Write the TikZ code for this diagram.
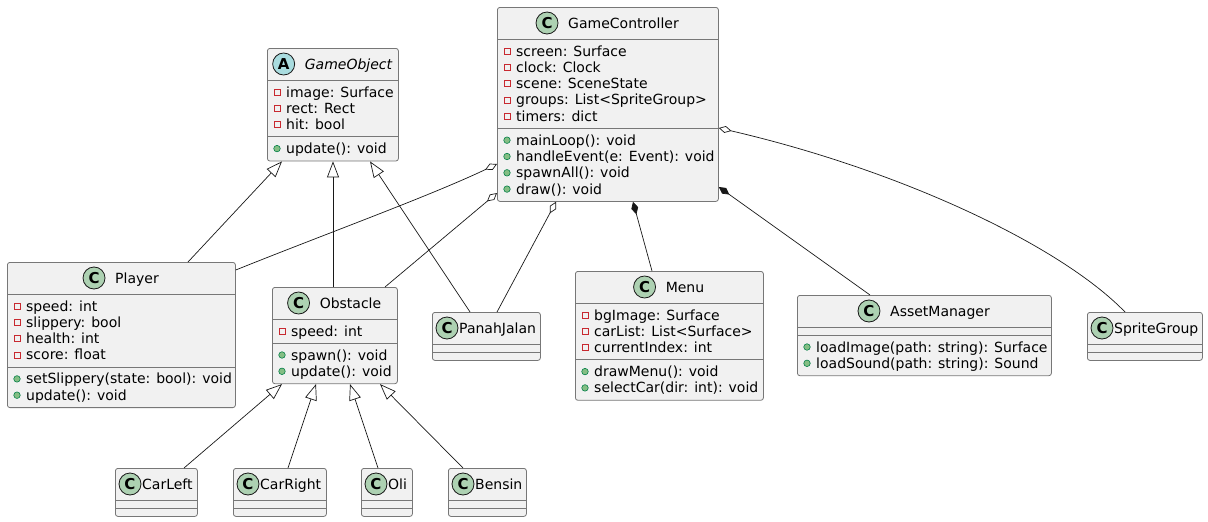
\documentclass[tikz,border=0pt]{standalone}
\usepackage{fontspec}
\setmainfont{DejaVu Sans}
\usetikzlibrary{arrows.meta,calc}
\definecolor{boxfill}{HTML}{F1F1F1}
\definecolor{boxline}{HTML}{181818}
\definecolor{boxborder}{HTML}{777777}
\definecolor{cfill}{HTML}{ADD1B2}
\definecolor{afill}{HTML}{A9DCDF}
\definecolor{privred}{HTML}{C82930}
\definecolor{pubfill}{HTML}{84BE84}
\definecolor{publine}{HTML}{038048}
\tikzset{
  classbox/.style={draw=boxborder, line width=0.8pt, fill=boxfill, rounded corners=2.5pt, inner sep=0pt, anchor=north west},
  sepline/.style={draw=boxborder, line width=0.8pt},
  rowtext/.style={inner sep=0pt, anchor=base west, font=\fontsize{14}{16.3}\selectfont},
  headtext/.style={inner sep=0pt, anchor=base, font=\fontsize{14}{16.3}\selectfont},
  headtextw/.style={inner sep=0pt, anchor=base west, font=\fontsize{14}{16.3}\selectfont},
  cicon/.style={circle, draw=boxline, line width=0.8pt, minimum size=22pt, inner sep=0pt, font=\fontsize{15}{15}\selectfont\bfseries},
  privicon/.style={rectangle, draw=privred, line width=0.8pt, minimum size=6pt, inner sep=0pt},
  pubicon/.style={circle, draw=publine, fill=pubfill, line width=0.6pt, minimum size=6.5pt, inner sep=0pt},
  conn/.style={draw=boxline, line width=0.7pt},
  inh/.style={conn, -{Triangle[open, length=16pt, width=12pt]}},
  agg/.style={conn, {Diamond[open, length=13pt, width=7pt]}-},
  comp/.style={conn, {Diamond[fill=boxline, length=13pt, width=7pt]}-},
}
% private attribute row: name, box left, row centre y, text
\newcommand{\prow}[4]{\node[privicon] (#1i) at (#2+10,#3) {};\node[rowtext] (#1) at (#2+19,#3+5) {#4};}
% public method row
\newcommand{\mrow}[4]{\node[pubicon] (#1i) at (#2+10,#3) {};\node[rowtext] (#1) at (#2+19,#3+5) {#4};}
% wide header: name, x centre of name, baseline, text, fill, letter
\newcommand{\whead}[6]{\node[headtext] (#1) at (#2,#3) {#4};\path (#1.base west) ++(-21pt,5pt) node[cicon, fill=#5] (#1c) {#6};}
% narrow header: name, box left, box top, text
\newcommand{\nhead}[4]{\node[headtextw] (#1) at (#2+27,#3+21) {#4};\node[cicon, fill=cfill] (#1c) at (#2+15,#3+16) {C};}
% separators: node, y1, y2 (offsets from top)
\newcommand{\seps}[3]{\draw[sepline] ([yshift=-#2pt]#1.north west) -- ([yshift=-#2pt]#1.north east);\draw[sepline] ([yshift=-#3pt]#1.north west) -- ([yshift=-#3pt]#1.north east);}
\begin{document}
\begin{tikzpicture}[x=1pt, y=-1pt]
\useasboundingbox (0,0) rectangle (1208,522);

% GameObject
\node[classbox, minimum width=131pt, minimum height=112.6pt] (GO) at (267,48) {};
\seps{GO}{32}{88.6}
\whead{GOn}{348.5}{69}{\itshape GameObject}{afill}{A}
\prow{GOa1}{267}{92}{image: Surface}
\prow{GOa2}{267}{108.3}{rect: Rect}
\prow{GOa3}{267}{124.6}{hit: bool}
\mrow{GOm1}{267}{148.6}{update(): void}

% GameController
\node[classbox, minimum width=221pt, minimum height=194pt] (GC) at (497,7) {};
\seps{GC}{32}{121.2}
\whead{GCn}{623.5}{28}{GameController}{cfill}{C}
\prow{GCa1}{497}{51}{screen: Surface}
\prow{GCa2}{497}{67.3}{clock: Clock}
\prow{GCa3}{497}{83.6}{scene: SceneState}
\prow{GCa4}{497}{99.9}{groups: List<SpriteGroup>}
\prow{GCa5}{497}{116.2}{timers: dict}
\mrow{GCm1}{497}{140.2}{mainLoop(): void}
\mrow{GCm2}{497}{156.5}{handleEvent(e: Event): void}
\mrow{GCm3}{497}{172.8}{spawnAll(): void}
\mrow{GCm4}{497}{189.1}{draw(): void}

% Player
\node[classbox, minimum width=228pt, minimum height=145.2pt] (PL) at (7,262) {};
\seps{PL}{32}{104.9}
\whead{PLn}{137}{283}{Player}{cfill}{C}
\prow{PLa1}{7}{306}{speed: int}
\prow{PLa2}{7}{322.3}{slippery: bool}
\prow{PLa3}{7}{338.6}{health: int}
\prow{PLa4}{7}{354.9}{score: float}
\mrow{PLm1}{7}{378.9}{setSlippery(state: bool): void}
\mrow{PLm2}{7}{395.2}{update(): void}

% Obstacle
\node[classbox, minimum width=125pt, minimum height=96.3pt] (OB) at (272,287) {};
\seps{OB}{32}{56}
\whead{OBn}{350.5}{308}{Obstacle}{cfill}{C}
\prow{OBa1}{272}{331}{speed: int}
\mrow{OBm1}{272}{355}{spawn(): void}
\mrow{OBm2}{272}{371.3}{update(): void}

% PanahJalan
\node[classbox, minimum width=108pt, minimum height=48pt] (PJ) at (432,312) {};
\seps{PJ}{32}{40}
\nhead{PJn}{432}{312}{PanahJalan}

% Menu
\node[classbox, minimum width=188pt, minimum height=128.9pt] (MN) at (575,271) {};
\seps{MN}{32}{88.6}
\whead{MNn}{685}{292}{Menu}{cfill}{C}
\prow{MNa1}{575}{315}{bgImage: Surface}
\prow{MNa2}{575}{331.3}{carList: List<Surface>}
\prow{MNa3}{575}{347.6}{currentIndex: int}
\mrow{MNm1}{575}{371.6}{drawMenu(): void}
\mrow{MNm2}{575}{387.9}{selectCar(dir: int): void}

% AssetManager
\node[classbox, minimum width=254pt, minimum height=80.3pt] (AM) at (797,295) {};
\seps{AM}{32}{40}
\whead{AMn}{940}{316}{AssetManager}{cfill}{C}
\mrow{AMm1}{797}{347}{loadImage(path: string): Surface}
\mrow{AMm2}{797}{363.3}{loadSound(path: string): Sound}

% SpriteGroup
\node[classbox, minimum width=115pt, minimum height=48pt] (SG) at (1087,312) {};
\seps{SG}{32}{40}
\nhead{SGn}{1087}{312}{SpriteGroup}

% bottom row
\node[classbox, minimum width=82pt, minimum height=48pt] (CL) at (115,468) {};
\seps{CL}{32}{40}
\nhead{CLn}{115}{468}{CarLeft}
\node[classbox, minimum width=93pt, minimum height=48pt] (CR) at (233,468) {};
\seps{CR}{32}{40}
\nhead{CRn}{233}{468}{CarRight}
\node[classbox, minimum width=51pt, minimum height=48pt] (OL) at (361,468) {};
\seps{OL}{32}{40}
\nhead{OLn}{361}{468}{Oli}
\node[classbox, minimum width=78pt, minimum height=48pt] (BS) at (448,468) {};
\seps{BS}{32}{40}
\nhead{BSn}{448}{468}{Bensin}

% inheritance
\draw[inh] ([xshift=181pt]PL.north west) -- ([xshift=15pt]GO.south west);
\draw[inh] ([xshift=61pt]OB.north west) -- ([xshift=66pt]GO.south west);
\draw[inh] ([xshift=38pt]PJ.north west) -- ([xshift=103pt]GO.south west);
\draw[inh] ([xshift=69pt]CL.north west) -- ([xshift=10pt]OB.south west);
\draw[inh] ([xshift=55pt]CR.north west) -- ([xshift=44pt]OB.south west);
\draw[inh] ([xshift=17pt]OL.north west) -- ([xshift=78pt]OB.south west);
\draw[inh] ([xshift=15pt]BS.north west) -- ([xshift=108pt]OB.south west);

% aggregation / composition
\draw[agg] ([yshift=-157pt]GC.north west) .. controls (430,196) and (320,236) .. ([yshift=-8pt]PL.north east);
\draw[agg] ([yshift=-186pt]GC.north west) -- ([xshift=113pt]OB.north west);
\draw[agg] ([xshift=59pt]GC.south west) -- ([xshift=65pt]PJ.north west);
\draw[comp] ([xshift=136pt]GC.south west) -- ([xshift=77pt]MN.north west);
\draw[comp] ([yshift=-180pt]GC.north east) -- ([xshift=73pt]AM.north west);
\draw[agg] ([yshift=-121pt]GC.north east) .. controls (900,170) and (1060,245) .. ([xshift=38pt]SG.north west);
\end{tikzpicture}
\end{document}
